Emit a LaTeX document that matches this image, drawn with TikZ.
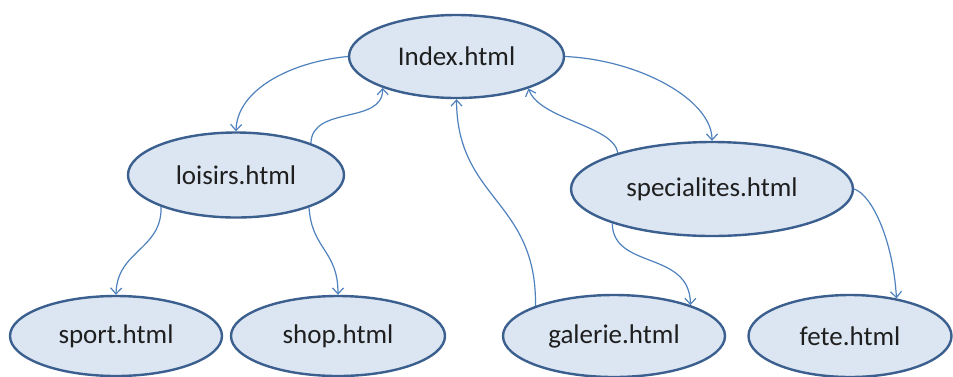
\documentclass[tikz,border=0pt]{standalone}
\usepackage{fontspec}
\setmainfont{Carlito}
\usetikzlibrary{shapes.geometric,arrows.meta}
\definecolor{nodefill}{HTML}{DCE6F2}
\definecolor{nodeline}{HTML}{3B5F8E}
\definecolor{linkcol}{HTML}{4F81BD}
\tikzset{
  page/.style={ellipse, draw=nodeline, fill=nodefill, line width=2.4pt, inner sep=0pt,
    font=\fontsize{27}{30}\selectfont, text=black!88},
  link/.style={draw=linkcol, line width=1.2pt, -{Straight Barb[length=6pt,width=11pt,line width=1.2pt]}}
}
\begin{document}
\begin{tikzpicture}[x=1pt,y=-1pt]
\useasboundingbox (0,0) rectangle (953,376);
\node[page, minimum width=215pt, minimum height=83pt] (index) at (456.5,56.5) {Index.html};
\node[page, minimum width=216pt, minimum height=85pt] (loisirs) at (236,175) {loisirs.html};
\node[page, minimum width=282pt, minimum height=94pt] (spec) at (712,189) {specialites.html};
\node[page, minimum width=212pt, minimum height=80pt] (sport) at (116,336) {sport.html};
\node[page, minimum width=214pt, minimum height=80pt] (shop) at (338,336) {shop.html};
\node[page, minimum width=222pt, minimum height=82pt] (galerie) at (614,336) {galerie.html};
\node[page, minimum width=203pt, minimum height=82pt] (fete) at (850,336) {fete.html};

\draw[link] (index.west) .. controls (290,62) and (237,90) .. (loisirs.north);
\draw[link] (loisirs.23) .. controls (312,105) and (383,125) .. (index.203);
\draw[link] (galerie.159) .. controls (537,200) and (457,200) .. (index.south);
\draw[link] (spec.159.5) .. controls (613,125) and (540,120) .. (index.336.5);
\draw[link] (index.east) .. controls (640,60) and (712,100) .. (spec.north);
\draw[link] (loisirs.203.4) .. controls (162,250) and (117,250) .. (sport.north);
\draw[link] (loisirs.336.6) .. controls (312,250) and (338,250) .. (shop.north);
\draw[link] (spec.199) .. controls (613,270) and (690,250) .. (galerie.22);
\draw[link] (spec.east) .. controls (872,195) and (893,240) .. (fete.39);
\end{tikzpicture}
\end{document}
